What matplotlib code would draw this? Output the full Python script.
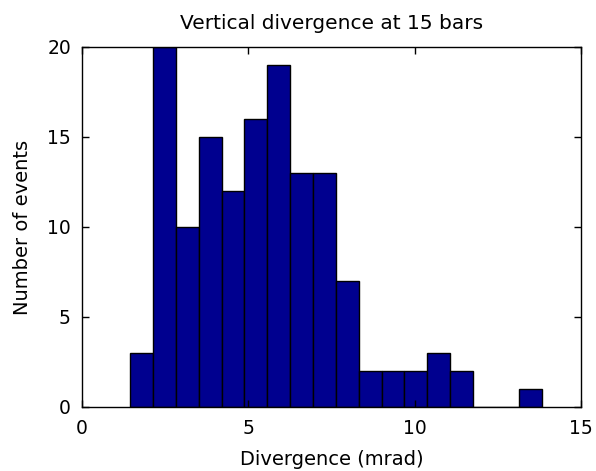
import numpy as np
import matplotlib
matplotlib.use("Agg")
import matplotlib.pyplot as plt

# Histogram counts of vertical divergence (mrad), 18 equal bins
counts = [3, 20, 10, 15, 12, 16, 19, 13, 13, 7, 2, 2, 2, 3, 2, 0, 0, 1]
bin_lo, bin_hi = 1.443, 13.82
edges = np.linspace(bin_lo, bin_hi, len(counts) + 1)

x_ticks = [0, 5, 10, 15]
y_ticks = [0, 5, 10, 15, 20]

plt.rcParams['font.family'] = ['DejaVu Sans']

fig = plt.figure(figsize=(5.96, 4.71), dpi=100)
ax = fig.add_axes([82 / 596, 1 - 407 / 471, (581 - 82) / 596, (407 - 47) / 471])

ax.bar(edges[:-1], counts, width=np.diff(edges), align='edge',
       color=(0, 0, 0.5625), edgecolor='black', linewidth=1.0)

ax.set_xlim(0, 15)
ax.set_ylim(0, 20)
ax.set_xticks(x_ticks)
ax.set_yticks(y_ticks)
ax.tick_params(direction='in', top=True, right=True, length=5, width=1,
               labelsize=13.5)
ax.tick_params(axis='x', pad=9)
ax.tick_params(axis='y', pad=8)
for s in ax.spines.values():
    s.set_linewidth(1.0)

ax.set_title('Vertical divergence at 15 bars', fontsize=14.5, pad=13)
ax.set_xlabel('Divergence (mrad)', fontsize=14, labelpad=8)
ax.set_ylabel('Number of events', fontsize=14, labelpad=11)

fig.savefig('out.png', dpi=100)
